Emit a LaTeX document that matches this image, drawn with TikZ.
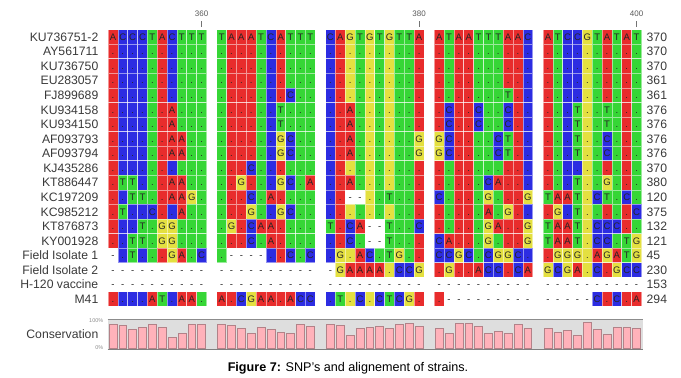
\documentclass[tikz,border=0pt]{standalone}
\usepackage{fontspec}
\setmainfont{Liberation Sans}
\usepackage{tikz}
\definecolor{ntA}{RGB}{232,44,44}
\definecolor{ntC}{RGB}{44,44,226}
\definecolor{ntG}{RGB}{228,224,64}
\definecolor{ntT}{RGB}{54,214,54}
\definecolor{barpink}{RGB}{255,178,186}
\definecolor{barline}{RGB}{178,130,136}
\definecolor{labgray}{RGB}{58,58,58}
\newcommand{\colx}[1]{108+int((#1-1)/10)*108.75+mod(#1-1,10)*9.85}
\newcommand{\seqrow}[4]{%
\pgfmathsetmacro\ry{37+(#1-1)*14.56}%
\node[lab,anchor=base east](name#1)at(98.5,\ry+4.3){#2};
\node[lab,anchor=base west](len#1)at(646.5,\ry+4.3){#3};
\foreach \c[count=\j] in {#4}{%
\pgfmathsetmacro\cx{\colx{\j}}%
\if\c-%
\node[ntxt](nt#1-\j)at(\cx+4.925,\ry+3.3){-};
\else
\if\c.\edef\ntb{\csname refnt\j\endcsname}\else\edef\ntb{\c}\fi
\filldraw[cell,fill=nt\ntb](\cx,\ry-7.28)rectangle++(9.85,14.56);
\node[ntxt](nt#1-\j)at(\cx+4.925,\ry+3.3){\c};
\fi}}

\begin{document}
\begin{tikzpicture}[x=1pt,y=-1pt,
lab/.style={font=\fontsize{12.2}{14}\selectfont,text=labgray,inner sep=0pt},
ntxt/.style={font=\fontsize{9.5}{11}\selectfont,text=black!85,inner sep=0pt,anchor=base},
cell/.style={draw=white,draw opacity=.5,line width=.7},
bar/.style={fill=barpink,draw=barline,line width=.6},
ruler/.style={font=\fontsize{8}{9}\selectfont,text=black!65,inner sep=0pt,anchor=base},
pct/.style={font=\fontsize{5.5}{6}\selectfont,text=black!45,inner sep=0pt,anchor=east}]
\useasboundingbox(0,0)rectangle(681,378);
\foreach \r[count=\i] in {A,C,C,C,T,A,C,T,T,T,T,A,A,A,T,C,A,T,T,T,C,A,G,T,G,T,G,T,T,A,A,T,A,A,T,T,T,A,A,C,A,T,C,C,G,T,A,T,A,T}
{\expandafter\xdef\csname refnt\i\endcsname{\r}}
\foreach \p/\k in {360/10,380/30,400/50}{
\pgfmathsetmacro\cx{\colx{\k}+4.925}
\node[ruler](pos\p)at(\cx,16){\p};
\draw[black!55](\cx,21)--(\cx,27);}
\seqrow{1}{KU736751-2}{370}{A,C,C,C,T,A,C,T,T,T,T,A,A,A,T,C,A,T,T,T,C,A,G,T,G,T,G,T,T,A,A,T,A,A,T,T,T,A,A,C,A,T,C,C,G,T,A,T,A,T}
\seqrow{2}{AY561711}{370}{.,.,.,.,.,.,.,.,.,.,.,.,.,.,.,.,.,.,.,.,.,.,.,.,.,.,.,.,.,.,.,.,.,.,.,.,.,.,.,.,.,.,.,.,.,.,.,.,.,.}
\seqrow{3}{KU736750}{370}{.,.,.,.,.,.,.,.,.,.,.,.,.,.,.,.,.,.,.,.,.,.,.,.,.,.,.,.,.,.,.,.,.,.,.,.,.,.,.,.,.,.,.,.,.,.,.,.,.,.}
\seqrow{4}{EU283057}{361}{.,.,.,.,.,.,.,.,.,.,.,.,.,.,.,.,.,.,.,.,.,.,.,.,.,.,.,.,.,.,.,.,.,.,.,.,.,.,.,.,.,.,.,.,.,.,.,.,.,.}
\seqrow{5}{FJ899689}{361}{.,.,.,.,.,.,.,.,.,.,.,.,.,.,.,.,.,C,.,.,.,.,.,.,.,.,.,.,.,.,.,.,.,.,.,.,.,T,.,.,.,.,.,.,.,.,.,.,.,.}
\seqrow{6}{KU934158}{376}{.,.,.,.,.,.,A,.,.,.,.,.,.,.,.,.,T,.,.,.,.,.,A,.,.,.,.,.,.,.,.,C,.,.,C,.,.,C,.,.,.,.,.,T,.,.,T,.,.,.}
\seqrow{7}{KU934150}{376}{.,.,.,.,.,.,A,.,.,.,.,.,.,.,.,.,T,.,.,.,.,.,A,.,.,.,.,.,.,.,.,C,.,.,C,.,.,C,.,.,.,.,.,T,.,.,T,.,.,.}
\seqrow{8}{AF093793}{376}{.,.,.,.,.,.,A,A,.,.,.,.,.,.,.,.,G,C,.,.,.,.,A,.,.,.,.,.,.,G,G,C,.,.,.,.,C,T,.,.,.,.,.,T,.,.,C,.,.,.}
\seqrow{9}{AF093794}{376}{.,.,.,.,.,.,A,A,.,.,.,.,.,.,.,.,G,C,.,.,.,.,A,.,.,.,.,.,.,G,G,C,.,.,.,.,C,T,.,.,.,.,.,T,.,.,C,.,.,.}
\seqrow{10}{KJ435286}{370}{.,.,.,.,.,.,.,.,.,.,.,.,.,C,.,.,.,.,.,.,.,.,.,.,.,.,.,.,.,.,.,.,.,.,.,.,.,.,.,.,.,.,.,.,.,.,.,.,.,.}
\seqrow{11}{KT886447}{380}{.,T,T,.,.,.,A,A,.,.,.,.,G,.,.,.,G,C,.,A,.,.,A,.,.,.,.,.,.,.,.,.,.,.,.,C,A,.,.,.,.,.,.,T,.,.,G,.,.,.}
\seqrow{12}{KC197209}{120}{.,.,T,T,.,.,A,A,G,.,.,.,.,C,.,A,.,.,.,.,.,.,-,-,.,.,T,.,.,.,C,.,.,.,.,G,.,.,.,G,T,A,A,T,.,C,T,.,C,.}
\seqrow{13}{KC985212}{375}{.,T,.,.,C,.,.,A,.,.,.,.,.,G,.,.,G,C,.,.,.,.,.,.,.,.,.,.,.,.,.,.,.,.,.,A,.,G,.,.,.,G,.,T,.,.,.,.,.,C}
\seqrow{14}{KT876873}{132}{.,.,.,T,.,G,G,.,.,.,.,G,.,C,A,A,.,.,.,.,T,.,C,A,-,-,T,.,.,C,.,.,.,.,.,G,A,.,.,G,T,A,A,T,.,C,C,C,.,.}
\seqrow{15}{KY001928}{121}{.,.,T,T,.,G,G,.,.,.,.,.,.,C,.,A,.,.,.,.,.,.,C,.,-,-,T,.,.,.,C,A,.,.,.,G,.,.,.,G,T,A,A,T,.,C,C,.,T,G}
\seqrow{16}{Field Isolate 1}{45}{-,.,T,.,.,.,G,A,.,C,.,-,-,-,-,.,.,C,.,C,.,G,.,A,C,.,T,G,.,.,C,C,G,C,.,C,G,G,C,.,.,G,G,G,.,A,G,A,T,G}
\seqrow{17}{Field Isolate 2}{230}{-,-,-,-,-,-,-,-,-,-,-,-,-,-,-,-,-,-,-,-,-,G,A,A,A,A,.,C,C,G,.,G,.,.,A,C,C,.,C,A,G,C,G,A,.,C,.,G,C,C}
\seqrow{18}{H-120 vaccine}{153}{-,-,-,-,-,-,-,-,-,-,-,-,-,-,-,-,-,-,-,-,-,-,-,-,-,-,-,-,-,-,-,-,-,-,-,-,-,-,-,-,-,-,-,-,-,-,-,-,-,-}
\seqrow{19}{M41}{294}{.,.,.,.,A,T,.,A,A,.,A,.,C,G,A,A,.,A,C,C,.,T,.,C,.,C,T,C,G,.,.,-,-,-,-,-,-,-,-,-,-,-,-,-,-,C,.,C,.,A}
\fill[black!13](107.5,319.3)rectangle(642.5,349.2);
\draw[black!45,line width=1.6](107.5,319.3)--(642.5,319.3);
\draw[black!50,line width=1.1](107.5,349.2)--(642.5,349.2);
\foreach \h[count=\j] in {324.7,325.7,329,327.3,324.7,327,337,333,324.7,324,324,325.3,328,333,327.3,329,332,333.3,324,326.3,324,325.3,335.3,328,327.3,326.3,328.7,324.7,323,326.3,328.7,333,323,323,326.3,333,331.3,333,324.7,328.7,328.7,332,330.3,335.3,322,329.7,334.7,327,327,328.7}{
\pgfmathsetmacro\cx{\colx{\j}}
\filldraw[bar](\cx+1,348.6)rectangle(\cx+8.85,\h);}
\node[pct](pmax)at(103.5,320.5){100\%};
\node[pct](pmin)at(103.5,347.5){0\%};
\node[lab,anchor=base east](cons)at(98.5,338){Conservation};
\node[anchor=base,inner sep=0pt,font=\fontsize{12.6}{15}\selectfont](caption)at(348,371){\textbf{Figure 7:} SNP's and alignement of strains.};
\end{tikzpicture}
\end{document}
